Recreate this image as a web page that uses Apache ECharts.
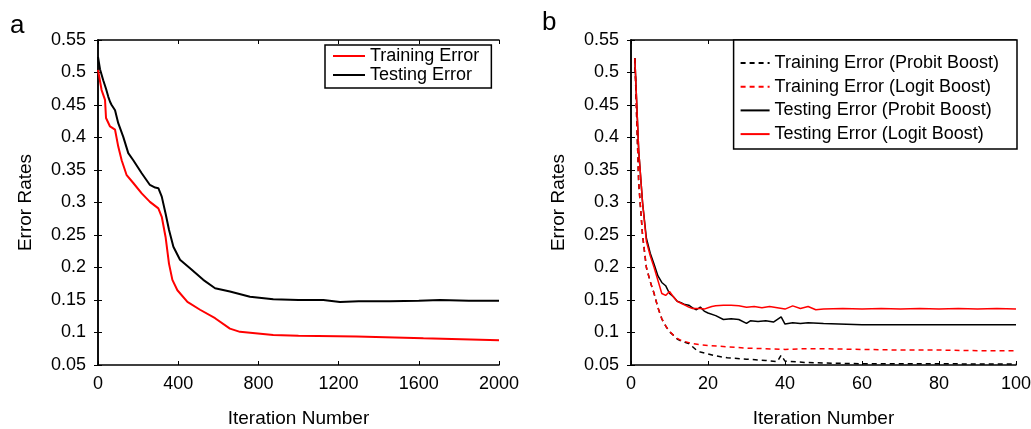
<!DOCTYPE html>
<html>
<head>
<meta charset="utf-8">
<script src="https://cdn.jsdelivr.net/npm/echarts@6/dist/echarts.min.js"></script>
<style>
  html, body { margin: 0; padding: 0; background: #fff; }
  #chart { width: 1031px; height: 429px; }
</style>
</head>
<body>
<div id="chart"></div>
<script>
// panel a
const iterTrainA = [0, 18, 35, 40, 60, 85, 101, 118, 143, 176, 218, 259, 301, 318, 337, 354, 371, 396, 446, 509, 584, 658, 708, 874, 1000, 1290, 1623, 2000]
const trainA = [0.504, 0.473, 0.458, 0.430, 0.417, 0.412, 0.386, 0.365, 0.342, 0.330, 0.314, 0.301, 0.291, 0.278, 0.247, 0.206, 0.181, 0.165, 0.147, 0.135, 0.122, 0.106, 0.101, 0.096, 0.095, 0.094, 0.091, 0.088]
const iterTestA = [0, 10, 26, 40, 51, 60, 68, 85, 101, 126, 151, 176, 218, 259, 285, 301, 318, 337, 354, 376, 409, 459, 525, 584, 658, 758, 874, 1000, 1124, 1207, 1300, 1456, 1600, 1706, 1850, 2000]
const testA = [0.524, 0.505, 0.488, 0.475, 0.463, 0.455, 0.450, 0.442, 0.422, 0.401, 0.376, 0.365, 0.345, 0.327, 0.323, 0.322, 0.309, 0.283, 0.258, 0.232, 0.212, 0.199, 0.181, 0.168, 0.163, 0.155, 0.151, 0.150, 0.150, 0.147, 0.148, 0.148, 0.149, 0.150, 0.149, 0.149]

// panel b
const iterTrainProbit = [1, 2, 3, 4, 5, 6, 7, 8, 9, 10, 11, 12, 13, 14, 15, 16, 17, 18, 20, 22, 25, 30, 35, 38, 39, 40, 45, 50, 60, 70, 80, 90, 100]
const trainProbit = [0.522, 0.33, 0.25, 0.20, 0.178, 0.160, 0.138, 0.121, 0.110, 0.101, 0.096, 0.090, 0.087, 0.085, 0.083, 0.078, 0.073, 0.070, 0.067, 0.064, 0.061, 0.059, 0.057, 0.055, 0.065, 0.056, 0.054, 0.053, 0.052, 0.052, 0.052, 0.0515, 0.0515]
const iterTrainLogit = [1, 2, 3, 4, 5, 6, 7, 8, 9, 10, 11, 12, 13, 14, 16, 18, 20, 25, 30, 35, 40, 45, 50, 60, 70, 80, 90, 100]
const trainLogit = [0.522, 0.33, 0.25, 0.20, 0.178, 0.160, 0.138, 0.121, 0.110, 0.102, 0.096, 0.091, 0.088, 0.086, 0.083, 0.081, 0.080, 0.078, 0.076, 0.075, 0.074, 0.075, 0.075, 0.074, 0.073, 0.073, 0.072, 0.072]
const iterTestProbit = [1, 2, 3, 4, 5, 6, 7, 8, 9, 10, 11, 12, 13, 14, 15, 16, 17, 18, 19, 20, 22, 24, 26, 28, 30, 31, 33, 35, 37, 39, 40, 42, 44, 46, 50, 60, 70, 80, 90, 100]
const testProbit = [0.522, 0.38, 0.30, 0.245, 0.222, 0.205, 0.187, 0.177, 0.172, 0.160, 0.155, 0.148, 0.146, 0.143, 0.142, 0.138, 0.135, 0.139, 0.133, 0.130, 0.126, 0.120, 0.121, 0.120, 0.114, 0.118, 0.117, 0.118, 0.116, 0.124, 0.113, 0.115, 0.114, 0.115, 0.114, 0.112, 0.112, 0.112, 0.112, 0.112]
const iterTestLogit = [1, 2, 3, 4, 5, 6, 7, 8, 9, 10, 11, 12, 13, 14, 15, 16, 18, 19, 20, 21, 22, 24, 26, 28, 30, 32, 34, 36, 38, 40, 42, 44, 46, 48, 50, 55, 60, 65, 70, 75, 80, 85, 90, 95, 100]
const testLogit = [0.522, 0.38, 0.30, 0.24, 0.218, 0.200, 0.180, 0.160, 0.157, 0.163, 0.155, 0.148, 0.145, 0.142, 0.139, 0.137, 0.137, 0.136, 0.138, 0.140, 0.141, 0.142, 0.142, 0.141, 0.139, 0.140, 0.138, 0.140, 0.138, 0.136, 0.141, 0.137, 0.140, 0.135, 0.136, 0.137, 0.136, 0.137, 0.136, 0.137, 0.136, 0.137, 0.136, 0.137, 0.136]

const xTicksA = { min: 0, max: 2000, interval: 400 }
const xTicksB = { min: 0, max: 100, interval: 20 }
const yTicks = { min: 0.05, max: 0.55, interval: 0.05 }

const font = 'Liberation Sans, Arial, sans-serif'

function zip(xs, ys) {
  return xs.map((x, i) => [x, ys[i]])
}

function axisBase(extra) {
  return Object.assign({
    type: 'value',
    axisLine: { show: true, lineStyle: { color: '#000', width: 1.5 } },
    axisTick: { show: true, inside: true, length: 4, lineStyle: { color: '#000', width: 1 } },
    splitLine: { show: false },
    axisLabel: { color: '#000', fontSize: 18, fontFamily: font },
    nameTextStyle: { color: '#000', fontSize: 19, fontFamily: font }
  }, extra)
}

function xAxes(grid, ticks) {
  return [
    axisBase(Object.assign({ gridIndex: grid, position: 'bottom', name: 'Iteration Number',
      nameLocation: 'middle', nameGap: 44 }, ticks, {
      axisLabel: { color: '#000', fontSize: 18, fontFamily: font, margin: 10, formatter: v => String(v) }
    })),
    axisBase(Object.assign({ gridIndex: grid, position: 'top' }, ticks, { axisLabel: { show: false } }))
  ]
}

function yAxes(grid) {
  return [
    axisBase(Object.assign({ gridIndex: grid, position: 'left', name: 'Error Rates',
      nameLocation: 'middle', nameGap: 63 }, yTicks, {
      axisLabel: { color: '#000', fontSize: 18, fontFamily: font, margin: 12,
        formatter: v => String(Math.round(v * 100) / 100) }
    })),
    axisBase(Object.assign({ gridIndex: grid, position: 'right' }, yTicks, { axisLabel: { show: false } }))
  ]
}

function line(name, xi, yi, data, color, width, dashed) {
  return {
    name: name,
    type: 'line',
    xAxisIndex: xi,
    yAxisIndex: yi,
    data: data,
    symbol: 'none',
    smooth: false,
    animation: false,
    lineStyle: { color: color, width: width, type: dashed ? [5, 4] : 'solid' },
    itemStyle: { color: color }
  }
}

const chart = echarts.init(document.getElementById('chart'))

const legendText = { color: '#000', fontSize: 18, fontFamily: font, lineHeight: 18 }

chart.setOption({
  backgroundColor: '#fff',
  animation: false,
  title: [
    { text: 'a', left: 10, top: 13, padding: 0, textStyle: { fontSize: 26, fontWeight: 'normal', color: '#000', fontFamily: font } },
    { text: 'b', left: 542, top: 10, padding: 0, textStyle: { fontSize: 26, fontWeight: 'normal', color: '#000', fontFamily: font } }
  ],
  grid: [
    { left: 98, top: 40, width: 401, height: 325, outerBoundsMode: 'none' },
    { left: 631, top: 40, width: 385, height: 325, outerBoundsMode: 'none' }
  ],
  xAxis: xAxes(0, xTicksA).concat(xAxes(1, xTicksB)),
  yAxis: yAxes(0).concat(yAxes(1)),
  legend: [
    {
      data: ['Training Error', 'Testing Error'],
      orient: 'vertical', left: 325, top: 45,
      itemWidth: 32, itemHeight: 14, itemGap: 1,
      padding: [2, 12, 4, 7],
      backgroundColor: '#fff',
      borderColor: '#000', borderWidth: 1.5, borderRadius: 0,
      itemStyle: { opacity: 0 },
      textStyle: legendText
    },
    {
      data: ['Training Error (Probit Boost)', 'Training Error (Logit Boost)',
        'Testing Error (Probit Boost)', 'Testing Error (Logit Boost)'],
      orient: 'vertical', right: 14, top: 40,
      itemWidth: 29, itemHeight: 14, itemGap: 5.7,
      padding: [14, 18, 6, 6],
      backgroundColor: '#fff',
      borderColor: '#000', borderWidth: 1.5, borderRadius: 0,
      itemStyle: { opacity: 0 },
      textStyle: legendText
    }
  ],
  series: [
    line('Training Error', 0, 0, zip(iterTrainA, trainA), '#ff0000', 2, false),
    line('Testing Error', 0, 0, zip(iterTestA, testA), '#000000', 2, false),
    line('Training Error (Probit Boost)', 2, 2, zip(iterTrainProbit, trainProbit), '#000000', 1.5, true),
    line('Training Error (Logit Boost)', 2, 2, zip(iterTrainLogit, trainLogit), '#ff0000', 1.5, true),
    line('Testing Error (Probit Boost)', 2, 2, zip(iterTestProbit, testProbit), '#000000', 1.5, false),
    line('Testing Error (Logit Boost)', 2, 2, zip(iterTestLogit, testLogit), '#ff0000', 1.5, false)
  ]
})
</script>
</body>
</html>
